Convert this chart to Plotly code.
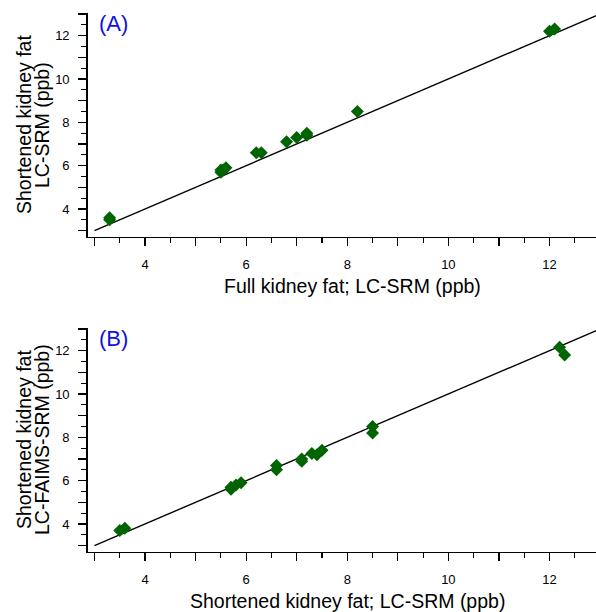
import plotly.graph_objects as go

# ---- data ----
a_x = [3.3, 3.3, 5.5, 5.5, 5.55, 5.6, 6.2, 6.3, 6.8, 7.0, 7.2, 7.2, 8.2, 12.0, 12.1]
a_y = [3.5, 3.6, 5.7, 5.8, 5.8, 5.9, 6.6, 6.6, 7.1, 7.3, 7.4, 7.5, 8.5, 12.2, 12.3]

b_x = [3.5, 3.6, 5.7, 5.7, 5.8, 5.9, 6.6, 6.6, 7.1, 7.1, 7.3, 7.4, 7.5, 8.5, 8.5, 12.2, 12.3]
b_y = [3.7, 3.8, 5.6, 5.7, 5.8, 5.9, 6.5, 6.7, 6.9, 7.0, 7.25, 7.2, 7.4, 8.2, 8.5, 12.15, 11.8]

line_x = [3, 13]
line_y = [3, 13]

tick_vals = [3, 4, 5, 6, 7, 8, 9, 10, 11, 12, 13]
tick_text = ["", "4", "", "6", "", "8", "", "10", "", "12", ""]

W, H = 596, 612
FONT = "Liberation Sans, Arial, sans-serif"
GREEN = "#006400"
BLUE = "#1010e0"

fig = go.Figure()

for xs, ys, xa, ya in [(a_x, a_y, "x", "y"), (b_x, b_y, "x2", "y2")]:
    fig.add_trace(go.Scatter(x=line_x, y=line_y, mode="lines", xaxis=xa, yaxis=ya,
                             line=dict(color="black", width=1.4), showlegend=False,
                             hoverinfo="skip"))
    fig.add_trace(go.Scatter(x=xs, y=ys, mode="markers", xaxis=xa, yaxis=ya,
                             marker=dict(symbol="diamond", size=10, color=GREEN,
                                         line=dict(width=0)),
                             showlegend=False))

def px_dom_y(top, bottom):
    return [1 - bottom / H, 1 - top / H]

x_dom = [87.7 / W, 1.0]
ya_dom = px_dom_y(13.3, 236.7)
yb_dom = px_dom_y(328.3, 551.7)

common = dict(
    tickmode="array", tickvals=tick_vals, ticktext=tick_text,
    ticks="outside", ticklen=8, tickwidth=1.3, tickcolor="black",
    showline=True, linecolor="black", linewidth=1.5, mirror=False,
    showgrid=False, zeroline=False,
    tickfont=dict(family=FONT, size=13, color="black"),
    minor=dict(ticks="outside", ticklen=5, tickwidth=1.2, tickcolor="black",
               dtick=0.5, tick0=3, showgrid=False),
)

xrange = [2.866, 12.92]
yrange = [2.72, 13.03]

fig.update_layout(
    width=W, height=H,
    margin=dict(l=0, r=0, t=0, b=0),
    paper_bgcolor="white", plot_bgcolor="white",
    font=dict(family=FONT, color="black"),
    xaxis=dict(domain=x_dom, range=xrange, anchor="y", ticklabelstandoff=7, **common),
    yaxis=dict(domain=ya_dom, range=yrange, anchor="x", ticklabelstandoff=6, **common),
    xaxis2=dict(domain=x_dom, range=xrange, anchor="y2", ticklabelstandoff=7, **common),
    yaxis2=dict(domain=yb_dom, range=yrange, anchor="x2", ticklabelstandoff=6, **common),
)

def ann(text, x, y, size, angle=0, color="black", xanchor="center"):
    fig.add_annotation(text=text, x=x / W, y=1 - y / H,
                       xref="paper", yref="paper",
                       showarrow=False, textangle=angle, xanchor=xanchor,
                       yanchor="middle", font=dict(family=FONT, size=size, color=color))

TS = 19.5
ann("Full kidney fat; LC-SRM (ppb)", 353, 286, TS)
ann("Shortened kidney fat; LC-SRM (ppb)", 347.5, 601, TS)
ann("Shortened kidney fat", 24, 125, TS, angle=-90)
ann("LC-SRM (ppb)", 42, 125, TS, angle=-90)
ann("Shortened kidney fat", 24, 440, TS, angle=-90)
ann("LC-FAIMS-SRM (ppb)", 42, 440, TS, angle=-90)
ann("(A)", 97, 24, 22, color=BLUE, xanchor="left")
ann("(B)", 97, 338, 22, color=BLUE, xanchor="left")

css_fix = ("document.body.style.margin='0';document.body.style.padding='0';"
           "document.body.style.overflow='hidden';"
           "document.documentElement.style.overflow='hidden';")
fig.write_html("out.html", post_script=css_fix,
               config={"displayModeBar": False, "staticPlot": True})
